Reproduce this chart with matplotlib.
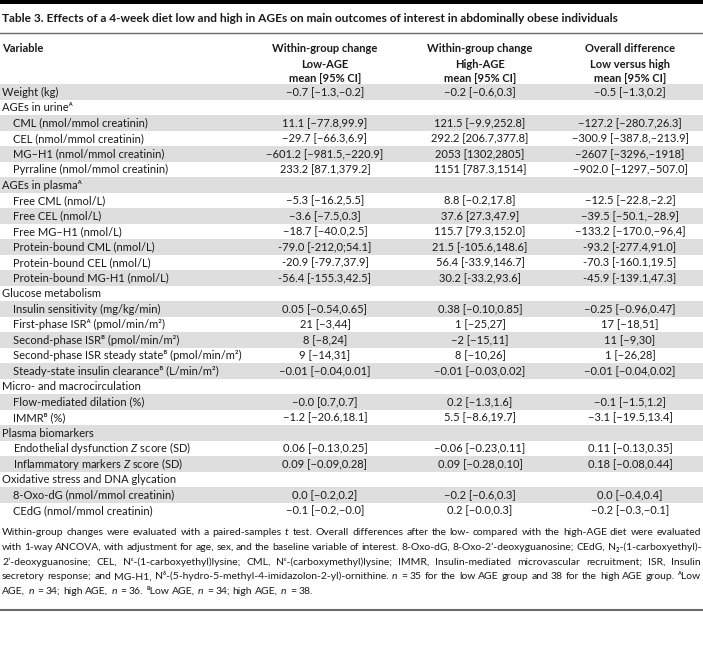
import matplotlib
matplotlib.use('Agg')
import matplotlib.pyplot as plt
from matplotlib.patches import Rectangle
from matplotlib import font_manager as fm

avail = {f.name for f in fm.fontManager.ttflist}
FONT = 'Lato' if 'Lato' in avail else 'DejaVu Sans'
plt.rcParams['font.family'] = [FONT, 'DejaVu Sans']
plt.rcParams['mathtext.fontset'] = 'custom'
plt.rcParams['mathtext.rm'] = FONT
plt.rcParams['mathtext.it'] = FONT + ':italic'
plt.rcParams['mathtext.bf'] = FONT + ':bold'

# ---------------- data ----------------
title = "Table 3. Effects of a 4-week diet low and high in AGEs on main outcomes of interest in abdominally obese individuals"
header_var = "Variable"
header_cols = [
    ["Within-group change", "Low-AGE", "mean [95% CI]"],
    ["Within-group change", "High-AGE", "mean [95% CI]"],
    ["Overall difference", "Low versus high", "mean [95% CI]"],
]
row_labels = [
    "Weight (kg)",
    "AGEs in urineᴬ",
    "CML (nmol/mmol creatinin)",
    "CEL (nmol/mmol creatinin)",
    "MG–H1 (nmol/mmol creatinin)",
    "Pyrraline (nmol/mmol creatinin)",
    "AGEs in plasmaᴬ",
    "Free CML (nmol/L)",
    "Free CEL (nmol/L)",
    "Free MG–H1 (nmol/L)",
    "Protein-bound CML (nmol/L)",
    "Protein-bound CEL (nmol/L)",
    "Protein-bound MG-H1 (nmol/L)",
    "Glucose metabolism",
    "Insulin sensitivity (mg/kg/min)",
    "First-phase ISRᴬ (pmol/min/m²)",
    "Second-phase ISRᴮ (pmol/min/m²)",
    "Second-phase ISR steady stateᴮ (pmol/min/m²)",
    "Steady-state insulin clearanceᴮ (L/min/m²)",
    "Micro- and macrocirculation",
    "Flow-mediated dilation (%)",
    "IMMRᴮ (%)",
    "Plasma biomarkers",
    r"Endothelial dysfunction $Z$ score (SD)",
    r"Inflammatory markers $Z$ score (SD)",
    "Oxidative stress and DNA glycation",
    "8-Oxo-dG (nmol/mmol creatinin)",
    "CEdG (nmol/mmol creatinin)",
]
row_indent = [0, 0, 1, 1, 1, 1, 0, 1, 1, 1, 1, 1, 1, 0, 1, 1, 1, 1, 1, 0, 1, 1, 0, 1, 1, 0, 1, 1]
low_age = [
    "−0.7 [−1.3,−0.2]", "",
    "11.1 [−77.8,99.9]", "−29.7 [−66.3,6.9]", "−601.2 [−981.5,−220.9]", "233.2 [87.1,379.2]",
    "",
    "−5.3 [−16.2,5.5]", "−3.6 [−7.5,0.3]", "−18.7 [−40.0,2.5]",
    "-79.0 [-212,0;54.1]", "-20.9 [-79.7,37.9]", "-56.4 [-155.3,42.5]",
    "",
    "0.05 [−0.54,0.65]", "21 [−3,44]", "8 [−8,24]", "9 [−14,31]", "−0.01 [−0.04,0.01]",
    "",
    "−0.0 [0.7,0.7]", "−1.2 [−20.6,18.1]",
    "",
    "0.06 [−0.13,0.25]", "0.09 [−0.09,0.28]",
    "",
    "0.0 [−0.2,0.2]", "−0.1 [−0.2,−0.0]",
]
high_age = [
    "−0.2 [−0.6,0.3]", "",
    "121.5 [−9.9,252.8]", "292.2 [206.7,377.8]", "2053 [1302,2805]", "1151 [787.3,1514]",
    "",
    "8.8 [−0.2,17.8]", "37.6 [27.3,47.9]", "115.7 [79.3,152.0]",
    "21.5 [-105.6,148.6]", "56.4 [-33.9,146.7]", "30.2 [-33.2,93.6]",
    "",
    "0.38 [−0.10,0.85]", "1 [−25,27]", "−2 [−15,11]", "8 [−10,26]", "−0.01 [−0.03,0.02]",
    "",
    "0.2 [−1.3,1.6]", "5.5 [−8.6,19.7]",
    "",
    "−0.06 [−0.23,0.11]", "0.09 [−0.28,0.10]",
    "",
    "−0.2 [−0.6,0.3]", "0.2 [−0.0,0.3]",
]
overall_diff = [
    "−0.5 [−1.3,0.2]", "",
    "−127.2 [−280.7,26.3]", "−300.9 [−387.8,−213.9]", "−2607 [−3296,−1918]", "−902.0 [−1297,−507.0]",
    "",
    "−12.5 [−22.8,−2.2]", "−39.5 [−50.1,−28.9]", "−133.2 [−170.0,−96,4]",
    "-93.2 [-277.4,91.0]", "-70.3 [-160.1,19.5]", "-45.9 [-139.1,47.3]",
    "",
    "−0.25 [−0.96,0.47]", "17 [−18,51]", "11 [−9,30]", "1 [−26,28]", "−0.01 [−0.04,0.02]",
    "",
    "−0.1 [−1.5,1.2]", "−3.1 [−19.5,13.4]",
    "",
    "0.11 [−0.13,0.35]", "0.18 [−0.08,0.44]",
    "",
    "0.0 [−0.4,0.4]", "−0.2 [−0.3,−0.1]",
]
footnote_lines = [
    r"Within-group changes were evaluated with a paired-samples $t$ test. Overall differences after the low- compared with the high-AGE diet were evaluated",
    "with 1-way ANCOVA, with adjustment for age, sex, and the baseline variable of interest. 8-Oxo-dG, 8-Oxo-2’-deoxyguanosine; CEdG, N₂-(1-carboxyethyl)-",
    "2’-deoxyguanosine; CEL, Nᵋ-(1-carboxyethyl)lysine; CML, Nᵋ-(carboxymethyl)lysine; IMMR, Insulin-mediated microvascular recruitment; ISR, Insulin",
    r"secretory response; and MG-H1, Nᵟ-(5-hydro-5-methyl-4-imidazolon-2-yl)-ornithine. $n$ = 35 for the low AGE group and 38 for the high AGE group. ᴬLow",
    r"AGE, $n$ = 34; high AGE, $n$ = 36. ᴮLow AGE, $n$ = 34; high AGE, $n$ = 38.",
]

# ---------------- layout ----------------
W, H = 703, 666
fig = plt.figure(figsize=(W / 100, H / 100), dpi=100)
ax = fig.add_axes([0, 0, 1, 1])
ax.set_xlim(0, W)
ax.set_ylim(H, 0)
ax.axis('off')

TXT = '#1a1a1a'
BAND = '#dedede'
RULE = '#6a6a6a'
FS = 8.0
FS_FOOT = 7.5
col_x = [325, 480, 630]
row_y0, row_dy = 92.0, 15.5

# top bar and title
ax.add_patch(Rectangle((0, 0), W, 4, color='black', lw=0))
ax.text(2, 19, title, fontsize=8.6, fontweight='bold', color=TXT, va='center', ha='left')
ax.plot([0, W], [32.5, 32.5], color=RULE, lw=1.0)

# header
ax.text(2, 49, header_var, fontsize=FS, fontweight='bold', color=TXT, va='center', ha='left')
for cx, lines in zip(col_x, header_cols):
    for k, s in enumerate(lines):
        ax.text(cx, 49 + 15 * k, s, fontsize=FS, fontweight='bold', color=TXT, va='center', ha='center')

# rows
for i, lab in enumerate(row_labels):
    yc = row_y0 + row_dy * i
    if i % 2 == 0:
        ax.add_patch(Rectangle((0, yc - row_dy / 2), W, row_dy, color=BAND, lw=0, zorder=0))
    ax.text(2 + 11 * row_indent[i], yc + 3.6, lab, fontsize=FS, color=TXT, va='baseline', ha='left')
    for cx, vals in zip(col_x, [low_age, high_age, overall_diff]):
        if vals[i]:
            ax.text(cx, yc + 3.6, vals[i], fontsize=FS, color=TXT, va='baseline', ha='center')

# footnote (justified)
fig.canvas.draw()
r = fig.canvas.get_renderer()

def width(s):
    t = ax.text(0, 0, s, fontsize=FS_FOOT)
    w = t.get_window_extent(r).width
    t.remove()
    return w

space_w = width('x x') - width('xx')
foot_y0, foot_dy = 532, 14.6
x0, x1 = 2, 701
for k, line in enumerate(footnote_lines):
    y = foot_y0 + foot_dy * k + 3.4
    words = line.split(' ')
    ws = [width(w) for w in words]
    if k < len(footnote_lines) - 1 and len(words) > 1:
        gap = (x1 - x0 - sum(ws)) / (len(words) - 1)
    else:
        gap = space_w
    x = x0
    for w, wd in zip(words, ws):
        ax.text(x, y, w, fontsize=FS_FOOT, color=TXT, va='baseline', ha='left')
        x += wd + gap

ax.plot([0, W], [610, 610], color=RULE, lw=1.5)

fig.savefig('out.png', dpi=100)
